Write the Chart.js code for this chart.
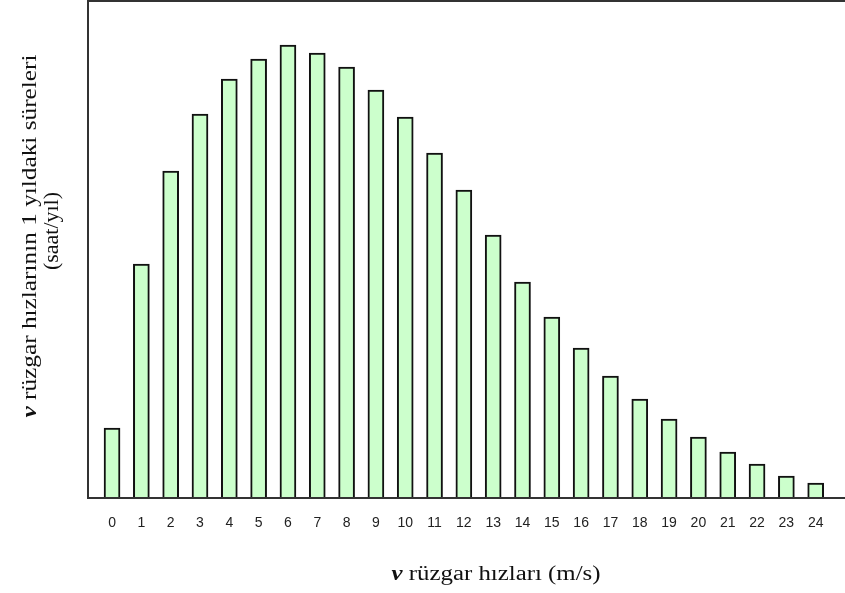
<!DOCTYPE html>
<html lang="tr">
<head>
<meta charset="utf-8">
<title>Rüzgar hızı dağılımı</title>
<script src="https://cdn.jsdelivr.net/npm/chart.js@4.4.1/dist/chart.umd.min.js"></script>
<style>
    html, body { margin: 0; padding: 0; background: #fff; }
    #wrap { position: relative; width: 845px; height: 593px; }
</style>
</head>
<body>
<div id="wrap"><canvas id="chart" width="845" height="593"></canvas></div>
<script>
// rüzgar hızı sınıfları (m/s)
const speeds = [0, 1, 2, 3, 4, 5, 6, 7, 8, 9, 10, 11, 12, 13, 14, 15, 16, 17, 18, 19, 20, 21, 22, 23, 24];
// her hız için yıllık süre (göreli birim, eksende ölçek yok)
const hours = [70, 234, 327, 384, 419, 439, 453, 445, 431, 408, 381, 345, 308, 263, 216, 181, 150, 122, 99, 79, 61, 46, 34, 22, 15];
const tickLabels = speeds.map(String);

const X_MIN = -0.82;
const X_MAX = 25;
const Y_MAX = 497;

const SERIF = '"Liberation Serif", "Times New Roman", serif';
const SANS = '"Liberation Sans", Arial, sans-serif';

// Çerçeve (üst, sol, alt çizgi) ve eksen başlıkları
const framePlugin = {
    id: 'frame',
    afterDraw(chart) {
        const { ctx, chartArea: a } = chart;
        ctx.save();
        ctx.strokeStyle = '#333';
        ctx.lineWidth = 2;
        ctx.beginPath();
        ctx.moveTo(a.right, a.top);
        ctx.lineTo(a.left, a.top);
        ctx.lineTo(a.left, a.bottom);
        ctx.lineTo(a.right, a.bottom);
        ctx.stroke();

        ctx.fillStyle = '#111';
        ctx.textBaseline = 'middle';

        // x ekseni başlığı
        drawMixed(ctx, 496, 575, 209, [
            { text: 'v', font: 'italic bold 20px ' + SERIF },
            { text: ' rüzgar hızları (m/s)', font: '20px ' + SERIF },
        ]);

        // y ekseni başlığı (iki satır, döndürülmüş)
        ctx.translate(31, 236);
        ctx.rotate(-Math.PI / 2);
        drawMixed(ctx, 0, 0, 363, [
            { text: 'v', font: 'italic bold 20px ' + SERIF },
            { text: ' rüzgar hızlarının 1 yıldaki süreleri', font: '20px ' + SERIF },
        ]);
        drawMixed(ctx, 5, 22, 78, [
            { text: '(saat/yıl)', font: '20px ' + SERIF },
        ]);
        ctx.restore();
    }
};

// parçaları yan yana, (cx, cy) merkezli ve verilen genişliğe yatay olarak gererek yazar
function drawMixed(ctx, cx, cy, width, parts) {
    let total = 0;
    for (const p of parts) {
        ctx.font = p.font;
        p.w = ctx.measureText(p.text).width;
        total += p.w;
    }
    const k = width / total;
    ctx.save();
    ctx.translate(cx - width / 2, cy);
    ctx.scale(k, 1);
    ctx.textAlign = 'left';
    let x = 0;
    for (const p of parts) {
        ctx.font = p.font;
        ctx.fillText(p.text, x, 0);
        x += p.w;
    }
    ctx.restore();
}

new Chart(document.getElementById('chart'), {
    type: 'bar',
    data: {
        datasets: [{
            data: speeds.map((s, i) => ({ x: s, y: hours[i] })),
            backgroundColor: '#ccffcc',
            borderColor: '#111',
            borderWidth: 2,
            barThickness: 16,
        }]
    },
    options: {
        responsive: false,
        animation: false,
        layout: { padding: { top: 1, left: 0, right: 0, bottom: 0 } },
        plugins: {
            legend: { display: false },
            tooltip: { enabled: false },
        },
        scales: {
            x: {
                type: 'linear',
                offset: false,
                min: X_MIN,
                max: X_MAX,
                grid: { display: false, drawTicks: false, offset: false },
                border: { display: false },
                afterBuildTicks: (axis) => {
                    axis.ticks = speeds.map(v => ({ value: v }));
                },
                afterFit: (axis) => { axis.height = 95; },
                ticks: {
                    autoSkip: false,
                    maxRotation: 0,
                    padding: 17,
                    color: '#222',
                    font: { family: SANS, size: 14 },
                    callback: (v) => tickLabels[speeds.indexOf(v)] ?? '',
                },
            },
            y: {
                min: 0,
                max: Y_MAX,
                grid: { display: false, drawTicks: false },
                border: { display: false },
                ticks: { display: false },
                afterFit: (axis) => { axis.width = 88; },
            },
        },
    },
    plugins: [framePlugin],
});
</script>
</body>
</html>
